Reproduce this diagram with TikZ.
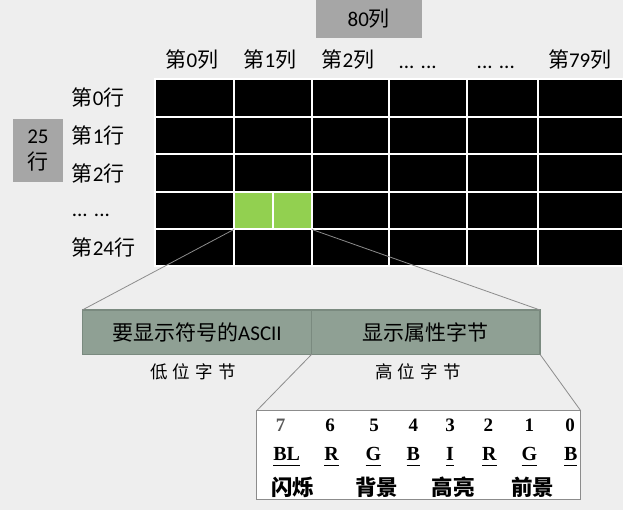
\documentclass[tikz,border=0pt]{standalone}
\usepackage{fontspec}
\setmainfont{Carlito}
\newfontfamily\cjk{Noto Sans CJK SC}
\newfontfamily\tms{Liberation Serif}
\definecolor{bgc}{HTML}{EEEEEE}
\definecolor{greybox}{HTML}{A6A6A6}
\definecolor{cellgreen}{HTML}{92D050}
\definecolor{boxfill}{HTML}{8FA094}
\definecolor{boxline}{HTML}{7A8A7F}
\definecolor{connc}{HTML}{8C8C8C}
\newcommand\ulx[1]{\vtop{\hbox{#1}\kern4pt\hrule height 1pt}}
\begin{document}
\begin{tikzpicture}[x=1pt,y=-1pt,
  cell/.style={draw=white,line width=2pt,fill=black,inner sep=0pt,outer sep=0pt},
  gcell/.style={cell,fill=cellgreen},
  lbl/.style={inner sep=0pt,font=\fontsize{21}{25}\selectfont},
  gbox/.style={fill=greybox,draw=none,inner sep=0pt},
  bytebox/.style={fill=boxfill,draw=boxline,line width=1.5pt,inner sep=0pt,outer sep=0pt,minimum height=44.3pt,font=\fontsize{21}{25}\selectfont},
  conn/.style={draw=connc,line width=0.8pt},
  sub/.style={inner sep=0pt,font=\fontsize{17.5}{20}\selectfont\cjk},
  bitnum/.style={inner sep=0pt,anchor=base,font=\fontsize{19}{22}\selectfont\tms\bfseries},
  bitlet/.style={inner sep=0pt,anchor=base,font=\fontsize{20}{22}\selectfont\tms\bfseries},
  bitcn/.style={inner sep=0pt,font=\fontsize{21.5}{24}\selectfont\cjk\bfseries}]
\useasboundingbox (0,0) rectangle (623,510);
\fill[bgc] (0,0) rectangle (623,510);

% grey header boxes
\node[gbox,minimum width=105.6pt,minimum height=37.7pt,lbl] (cols) at (368.8,18.85) {80{\cjk 列}};
\node[gbox,minimum width=49.8pt,minimum height=62.7pt,align=center,font=\fontsize{21}{25.6}\selectfont] (rows) at (37.9,150.3) {25\\{\cjk 行}};

% column headers
\node[lbl] (h0) at (192,60) {{\cjk 第}0{\cjk 列}};
\node[lbl] (h1) at (270,60) {{\cjk 第}1{\cjk 列}};
\node[lbl] (h2) at (348,60) {{\cjk 第}2{\cjk 列}};
\node[lbl,anchor=base] (h3) at (417.6,69) {... ...};
\node[lbl,anchor=base] (h4) at (495.8,69) {... ...};
\node[lbl] (h5) at (579.7,60) {{\cjk 第}79{\cjk 列}};

% row headers
\node[lbl,anchor=west] (r0) at (71.6,97.9) {{\cjk 第}0{\cjk 行}};
\node[lbl,anchor=west] (r1) at (71.6,135.8) {{\cjk 第}1{\cjk 行}};
\node[lbl,anchor=west] (r2) at (71.6,173.4) {{\cjk 第}2{\cjk 行}};
\node[lbl,anchor=base west] (r3) at (71.6,217) {... ...};
\node[lbl,anchor=west] (r4) at (71.6,247.9) {{\cjk 第}24{\cjk 行}};

% grid cells
\foreach \r/\ya/\yb in {0/79/116.7,1/116.7/154.5,2/154.5/192.3,3/192.3/229.5,4/229.5/266.5}{
  \foreach \c/\xa/\xb in {0/155/233.8,1/233.8/312,2/312/389,3/389/467,4/467/538,5/538/623}{
    \ifnum\r\c=31 \else
    \pgfmathsetmacro\w{\xb-\xa}
    \pgfmathsetmacro\h{\yb-\ya}
    \node[cell,minimum width=\w pt,minimum height=\h pt] (c\r\c) at ({(\xa+\xb)/2},{(\ya+\yb)/2}) {};
    \fi
  }}
\node[gcell,minimum width=38.7pt,minimum height=37.2pt] (g1) at (253.15,210.9) {};
\node[gcell,minimum width=39.5pt,minimum height=37.2pt] (g2) at (292.25,210.9) {};

% byte boxes
\node[bytebox,minimum width=229.4pt] (low) at (197,332.15) {{\cjk 要显示符号的}ASCII};
\node[bytebox,minimum width=228.3pt] (high) at (425.85,332.15) {\cjk 显示属性字节};
\node[sub] (lowl) at (193,372) {低\hspace{5pt}位\hspace{5pt}字\hspace{5pt}节};
\node[sub] (highl) at (418,372) {高\hspace{5pt}位\hspace{5pt}字\hspace{5pt}节};

% bit box
\node[draw=connc,line width=1pt,fill=white,minimum width=324pt,minimum height=88.3pt,inner sep=0pt,outer sep=0pt] (bits) at (418.7,454.85) {};
\node[bitnum,text=black!65] (n7) at (280.7,431.5) {7};
\foreach \i/\x in {6/330,5/374,4/413.3,3/450,2/488.3,1/529.3,0/570}{
  \node[bitnum] (n\i) at (\x,431.5) {\i};
}
\foreach \i/\x/\t in {7/286.7/BL,6/331.7/R,5/373.3/G,4/413.3/B,3/450/I,2/489.3/R,1/529.3/G,0/570.7/B}{
  \node[bitlet] (l\i) at (\x,460.5) {\ulx{\t}};
}
\node[bitcn] (blink) at (292.5,487) {闪烁};
\node[bitcn] (bg) at (376.7,487) {背景};
\node[bitcn] (hl) at (453.3,487) {高亮};
\node[bitcn] (fg) at (532.7,487) {前景};

% connectors
\draw[conn] (g1.south west) -- (low.north west);
\draw[conn] (g2.south east) -- (high.north east);
\draw[conn] (high.south west) -- (bits.north west);
\draw[conn] (high.south east) -- (bits.north east);
\end{tikzpicture}
\end{document}
